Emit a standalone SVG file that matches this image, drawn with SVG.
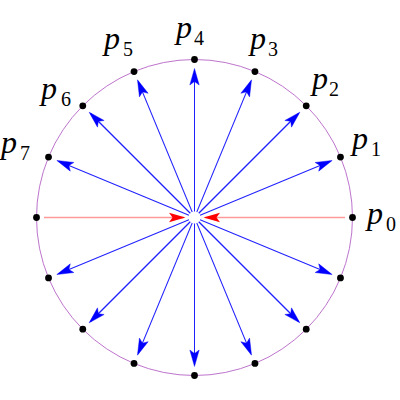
<svg xmlns="http://www.w3.org/2000/svg" width="400" height="400" viewBox="0 0 400 400">
<style>
.r{stroke:#ff9a9a;stroke-width:1.4;fill:none}
.d{fill:#000}
.lab{font-family:"Liberation Serif","Times New Roman",serif;font-style:italic;font-size:32px;fill:#000}
.sub{font-family:"Liberation Serif","Times New Roman",serif;font-size:20px;fill:#000}
</style>
<defs>
<g id="ray">
<path d="M6,0 L147,0" stroke="#2020ff" stroke-width="1" fill="none"/>
<path d="M149,0 L132.5,-4.7 L136,0 L132.5,4.7 Z" fill="#0000ff" stroke="#0000ff" stroke-width="0.4"/>
</g>
<g id="rayd">
<path d="M6,0 L147,0" stroke="#2020ff" stroke-width="1.3" fill="none"/>
<path d="M149,0 L132.5,-4.7 L136,0 L132.5,4.7 Z" fill="#0000ff" stroke="#0000ff" stroke-width="0.4"/>
</g>
<path id="hr" d="M0,0 L-16.5,-4.7 L-13,0 L-16.5,4.7 Z" fill="#ff0000"/>
</defs>
<rect width="400" height="400" fill="#fff"/>
<circle id="circle" cx="194.5" cy="217.5" r="158" fill="none" stroke="#b664c6" stroke-width="0.9"/>
<g id="connectors">
<path class="r" d="M345,217.5 L205,217.5"/>
<use href="#hr" transform="translate(203.5,217.5) rotate(180)"/>
<path class="r" d="M44,217.5 L184,217.5"/>
<use href="#hr" transform="translate(185.5,217.5)"/>
<g transform="translate(194.5,217.5)">
<use href="#ray" transform="rotate(-22.5)"/>
<use href="#rayd" transform="rotate(-45)"/>
<use href="#ray" transform="rotate(-67.5)"/>
<use href="#ray" transform="rotate(-90)"/>
<use href="#ray" transform="rotate(-112.5)"/>
<use href="#rayd" transform="rotate(-135)"/>
<use href="#ray" transform="rotate(-157.5)"/>
<use href="#ray" transform="rotate(157.5)"/>
<use href="#rayd" transform="rotate(135)"/>
<use href="#ray" transform="rotate(112.5)"/>
<use href="#ray" transform="rotate(90)"/>
<use href="#ray" transform="rotate(67.5)"/>
<use href="#rayd" transform="rotate(45)"/>
<use href="#ray" transform="rotate(22.5)"/>
</g>
</g>
<g id="p0"><circle class="d" cx="352.5" cy="217.5" r="3.4"/><text class="lab" x="367" y="224">p</text><text class="sub" x="386" y="231">0</text></g>
<g id="p1"><circle class="d" cx="340.47" cy="157.04" r="3.4"/><text class="lab" x="352" y="149">p</text><text class="sub" x="371" y="156">1</text></g>
<g id="p2"><circle class="d" cx="306.22" cy="105.78" r="3.4"/><text class="lab" x="312" y="89">p</text><text class="sub" x="329" y="96">2</text></g>
<g id="p3"><circle class="d" cx="254.96" cy="71.53" r="3.4"/><text class="lab" x="250" y="49">p</text><text class="sub" x="268" y="56">3</text></g>
<g id="p4"><circle class="d" cx="194.5" cy="59.5" r="3.4"/><text class="lab" x="176" y="38">p</text><text class="sub" x="194" y="45">4</text></g>
<g id="p5"><circle class="d" cx="134.04" cy="71.53" r="3.4"/><text class="lab" x="104" y="49">p</text><text class="sub" x="123" y="56">5</text></g>
<g id="p6"><circle class="d" cx="82.78" cy="105.78" r="3.4"/><text class="lab" x="41" y="99">p</text><text class="sub" x="61" y="106">6</text></g>
<g id="p7"><circle class="d" cx="48.53" cy="157.04" r="3.4"/><text class="lab" x="1" y="153">p</text><text class="sub" x="20" y="160">7</text></g>
<g id="q8"><circle class="d" cx="36.5" cy="217.5" r="3.4"/></g>
<g id="q9"><circle class="d" cx="48.53" cy="277.96" r="3.4"/></g>
<g id="q10"><circle class="d" cx="82.78" cy="329.22" r="3.4"/></g>
<g id="q11"><circle class="d" cx="134.04" cy="363.47" r="3.4"/></g>
<g id="q12"><circle class="d" cx="194.5" cy="375.5" r="3.4"/></g>
<g id="q13"><circle class="d" cx="254.96" cy="363.47" r="3.4"/></g>
<g id="q14"><circle class="d" cx="306.22" cy="329.22" r="3.4"/></g>
<g id="q15"><circle class="d" cx="340.47" cy="277.96" r="3.4"/></g>
</svg>
